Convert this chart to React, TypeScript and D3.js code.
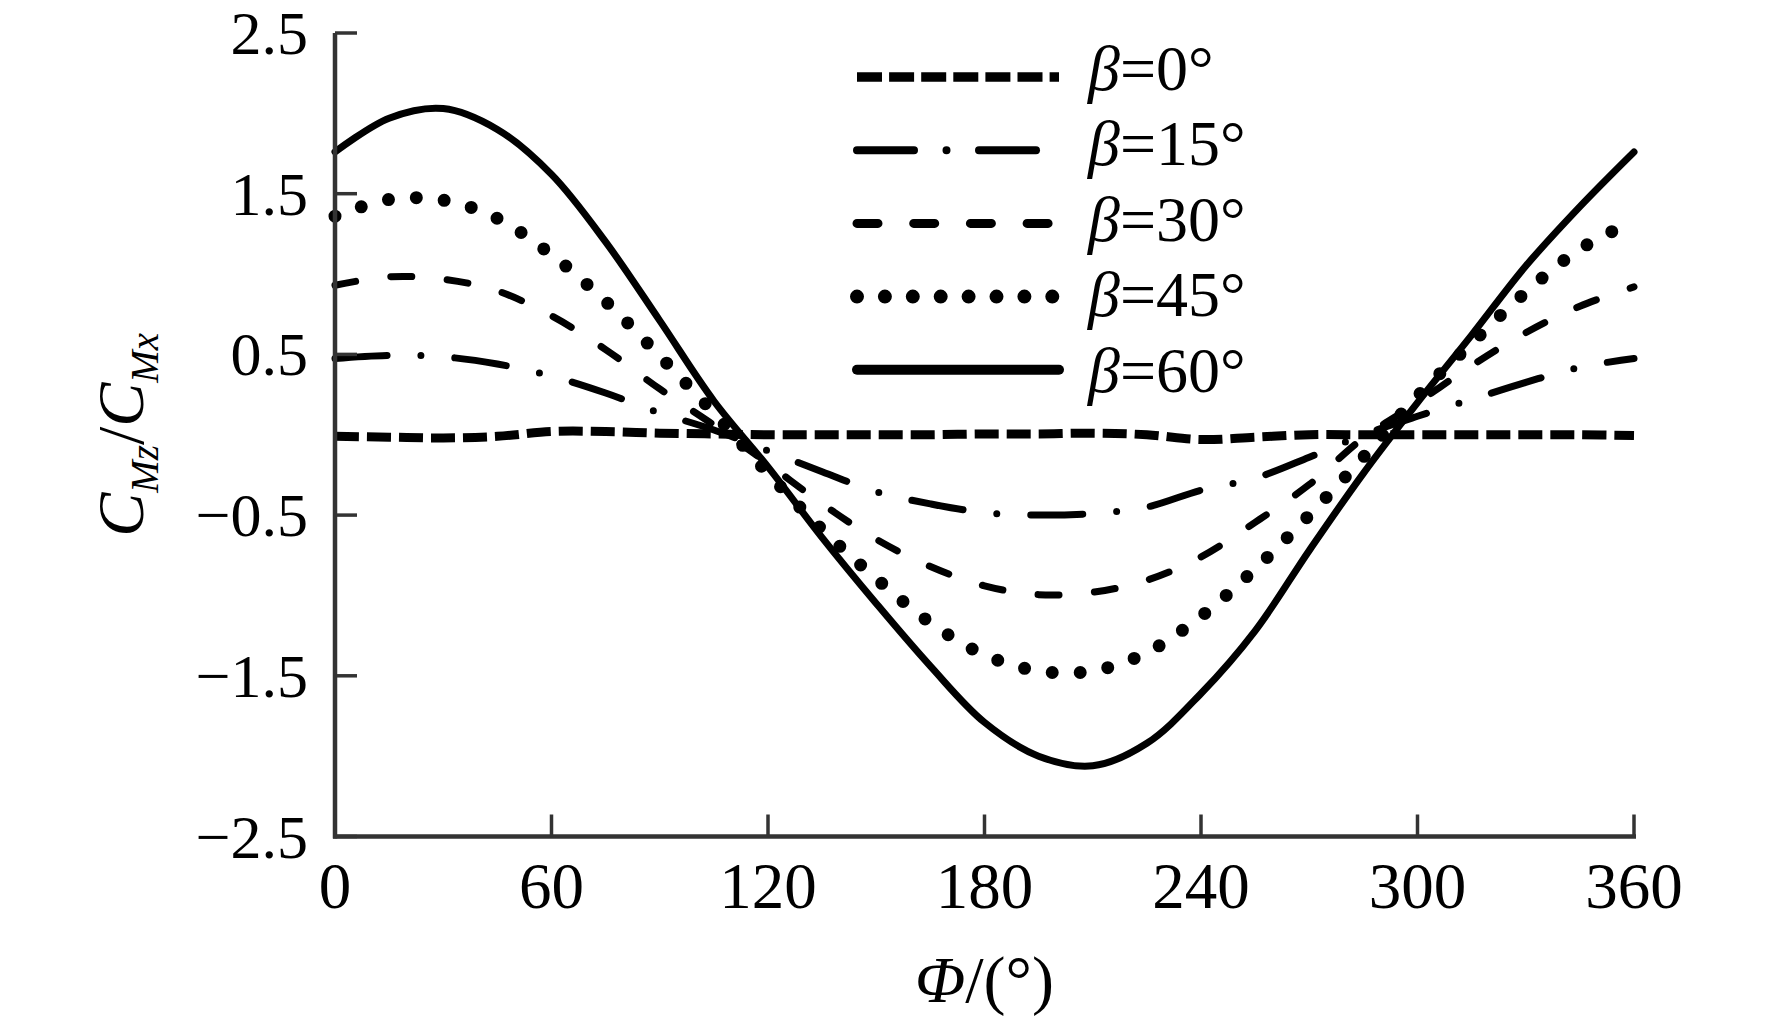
import { useEffect, useRef } from "react";
import * as d3 from "d3";

// azimuth angle Φ (deg) and C_Mz/C_Mx
const phi = [0, 15, 30, 45, 60, 75, 90, 105, 120, 135, 150, 165, 180, 195, 210, 225, 240, 255, 270, 285, 300, 315, 330, 345, 360];
const beta0 = [-0.01, -0.015, -0.02, -0.01, 0.02, 0.02, 0.01, 0.005, 0.0, 0.0, 0.0, 0.0, 0.005, 0.005, 0.01, 0.0, -0.03, -0.015, 0.0, 0.0, 0.0, 0.0, 0.0, 0.0, -0.005];
const beta15 = [0.475, 0.494, 0.485, 0.44, 0.365, 0.26, 0.136, 0.03, -0.1, -0.23, -0.355, -0.43, -0.485, -0.5, -0.49, -0.45, -0.345, -0.27, -0.14, 0.0, 0.115, 0.22, 0.326, 0.42, 0.475];
const beta30 = [0.93, 0.983, 0.968, 0.895, 0.74, 0.53, 0.285, 0.06, -0.18, -0.43, -0.65, -0.82, -0.94, -0.995, -0.98, -0.905, -0.76, -0.545, -0.31, -0.02, 0.2, 0.43, 0.635, 0.8, 0.92];
const beta45 = [1.36, 1.464, 1.46, 1.346, 1.12, 0.83, 0.49, 0.135, -0.24, -0.59, -0.895, -1.17, -1.37, -1.47, -1.47, -1.355, -1.13, -0.835, -0.5, -0.14, 0.24, 0.57, 0.887, 1.155, 1.33];
const beta60 = [1.76, 1.97, 2.03, 1.9, 1.62, 1.2, 0.71, 0.21, -0.2, -0.64, -1.05, -1.44, -1.79, -2.0, -2.06, -1.92, -1.61, -1.22, -0.72, -0.24, 0.2, 0.62, 1.05, 1.42, 1.76];

const seriesValues = [beta0, beta15, beta30, beta45, beta60];
const seriesNames = ["0°", "15°", "30°", "45°", "60°"];

const xTicks = [0, 60, 120, 180, 240, 300, 360];
const yTicks = [2.5, 1.5, 0.5, -0.5, -1.5, -2.5];
const yTickLabels = ["2.5", "1.5", "0.5", "\u22120.5", "\u22121.5", "\u22122.5"];

// line styles: plot and legend
const styles = [
  { width: 9, legendWidth: 9.5, dash: "24 8", legendDash: "25 7.1", cap: "butt" },
  { width: 7, legendWidth: 8, dash: "52 34 0 34", legendDash: "57 32.5 0 32.5", cap: "round" },
  { width: 7, legendWidth: 9, dash: "21 35.5", legendDash: "21 35.7", cap: "round" },
  { width: 13, legendWidth: 14, dash: "0 28", legendDash: "0 27.9", cap: "round" },
  { width: 7, legendWidth: 10, dash: null, legendDash: null, cap: "round" },
];

const FONT = "'Liberation Serif', 'Times New Roman', serif";

export default function App() {
  const svgRef = useRef<SVGSVGElement>(null);

  useEffect(() => {
    if (!svgRef.current) return;
    const svg = d3.select(svgRef.current);
    svg.selectAll("*").remove();

    const x = d3.scaleLinear().domain([0, 360]).range([335, 1634]);
    const y = d3.scaleLinear().domain([-2.5, 2.5]).range([836.5, 33]);

    const axisColor = "#333";

    // --- Series ---
    const line = d3.line<number>()
      .x((_, i) => x(phi[i]))
      .y(d => y(d))
      .curve(d3.curveCatmullRom.alpha(0.5));

    seriesValues.forEach((vals, i) => {
      const st = styles[i];
      svg.append("path")
        .datum(vals)
        .attr("fill", "none")
        .attr("stroke", "#000")
        .attr("stroke-width", st.width)
        .attr("stroke-linecap", st.cap)
        .attr("stroke-linejoin", "round")
        .attr("stroke-dasharray", st.dash)
        .attr("d", line);
    });

    // --- Axes ---
    svg.append("line")
      .attr("x1", x(0)).attr("x2", x(0))
      .attr("y1", y(2.5)).attr("y2", y(-2.5) + 2)
      .attr("stroke", axisColor).attr("stroke-width", 4.5);
    svg.append("line")
      .attr("x1", x(0) - 2).attr("x2", x(360) + 2)
      .attr("y1", y(-2.5)).attr("y2", y(-2.5))
      .attr("stroke", axisColor).attr("stroke-width", 4.5);

    svg.selectAll(".ytick")
      .data(yTicks)
      .enter()
      .append("line")
      .attr("x1", x(0)).attr("x2", x(0) + 22)
      .attr("y1", d => y(d)).attr("y2", d => y(d))
      .attr("stroke", axisColor).attr("stroke-width", 3.5);

    svg.selectAll(".xtick")
      .data(xTicks)
      .enter()
      .append("line")
      .attr("x1", d => x(d)).attr("x2", d => x(d))
      .attr("y1", y(-2.5)).attr("y2", y(-2.5) - 22)
      .attr("stroke", axisColor).attr("stroke-width", 3.5);

    svg.selectAll(".ylabel")
      .data(yTicks)
      .enter()
      .append("text")
      .attr("x", 308)
      .attr("y", d => y(d) + 21)
      .attr("text-anchor", "end")
      .style("font-family", FONT)
      .style("font-size", "62px")
      .text((_, i) => yTickLabels[i]);

    svg.selectAll(".xlabel")
      .data(xTicks)
      .enter()
      .append("text")
      .attr("x", d => x(d))
      .attr("y", 908)
      .attr("text-anchor", "middle")
      .style("font-family", FONT)
      .style("font-size", "65px")
      .text(d => String(d));

    // Axis titles
    const xt = svg.append("text")
      .attr("x", (x(0) + x(360)) / 2)
      .attr("y", 1002)
      .attr("text-anchor", "middle")
      .style("font-family", FONT)
      .style("font-size", "66px");
    xt.append("tspan").style("font-style", "italic").text("Φ");
    xt.append("tspan").text("/(°)");

    const yt = svg.append("text")
      .attr("transform", `translate(143,${(y(2.5) + y(-2.5)) / 2}) rotate(-90)`)
      .attr("text-anchor", "middle")
      .style("font-family", FONT)
      .style("font-size", "66px")
      .style("font-style", "italic");
    yt.append("tspan").text("C");
    yt.append("tspan").attr("dy", 15).style("font-size", "39px").text("Mz");
    yt.append("tspan").attr("dy", -15).style("font-style", "normal").text("/");
    yt.append("tspan").text("C");
    yt.append("tspan").attr("dy", 15).style("font-size", "39px").text("Mx");

    // --- Legend ---
    seriesNames.forEach((name, i) => {
      const st = styles[i];
      const ly = 77 + i * 73.2;
      svg.append("line")
        .attr("x1", 857).attr("x2", 1059)
        .attr("y1", ly).attr("y2", ly)
        .attr("stroke", "#000")
        .attr("stroke-width", st.legendWidth)
        .attr("stroke-linecap", st.cap)
        .attr("stroke-dasharray", st.legendDash);

      const t = svg.append("text")
        .attr("x", 1088)
        .attr("y", 90 + i * 75.4)
        .style("font-family", FONT)
        .style("font-size", "64px");
      t.append("tspan").style("font-style", "italic").text("β");
      t.append("tspan").text("=" + name);
    });
  }, []);

  return (
    <svg
      ref={svgRef}
      width={1772}
      height={1022}
      style={{ position: "absolute", left: 0, top: 0, background: "#fff" }}
    />
  );
}
